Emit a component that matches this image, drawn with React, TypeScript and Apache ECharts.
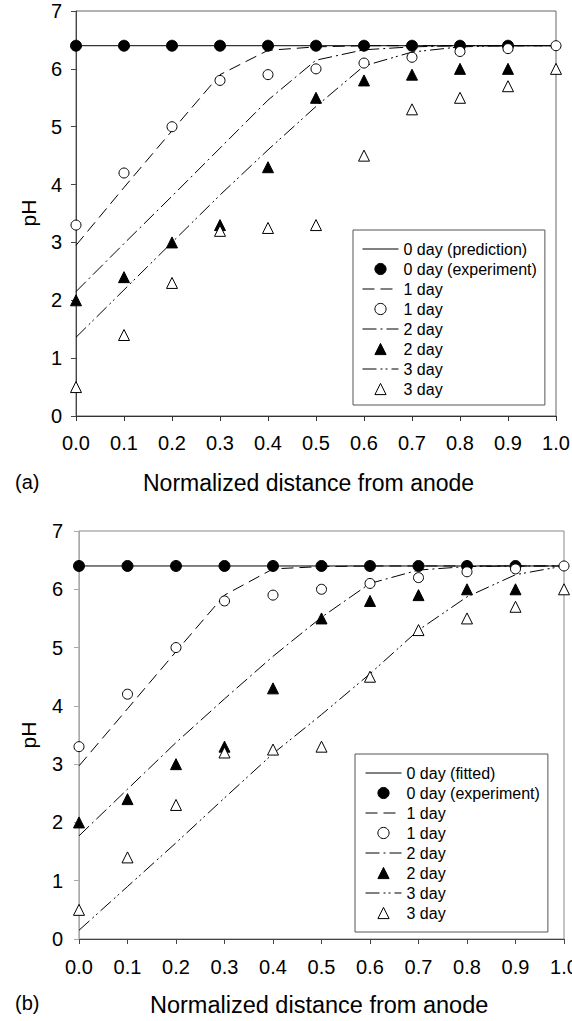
import React, { useEffect, useRef } from "react";
import * as echarts from "echarts";

// Normalized distance from anode
const X = [0, 0.1, 0.2, 0.3, 0.4, 0.5, 0.6, 0.7, 0.8, 0.9, 1.0];

// Experimental pH (same in both panels)
const EXP_DAY0 = [6.4, 6.4, 6.4, 6.4, 6.4, 6.4, 6.4, 6.4, 6.4, 6.4];
const EXP_DAY1 = [3.3, 4.2, 5.0, 5.8, 5.9, 6.0, 6.1, 6.2, 6.3, 6.35, 6.4];
const EXP_DAY2 = [2.0, 2.4, 3.0, 3.3, 4.3, 5.5, 5.8, 5.9, 6.0, 6.0];
const EXP_DAY3 = [0.5, 1.4, 2.3, 3.2, 3.25, 3.3, 4.5, 5.3, 5.5, 5.7, 6.0];

// (a) predictions
const PRED_DAY0 = [6.4, 6.4, 6.4, 6.4, 6.4, 6.4, 6.4, 6.4, 6.4, 6.4, 6.4];
const PRED_DAY1 = [2.95, 3.95, 4.93, 5.9, 6.32, 6.38, 6.4, 6.4, 6.4, 6.4, 6.4];
const PRED_DAY2 = [2.15, 2.98, 3.8, 4.63, 5.46, 6.15, 6.33, 6.38, 6.4, 6.4, 6.4];
const PRED_DAY3 = [1.36, 2.18, 3.0, 3.82, 4.6, 5.35, 6.05, 6.29, 6.38, 6.4, 6.4];

// (b) fitted
const FIT_DAY0 = [6.4, 6.4, 6.4, 6.4, 6.4, 6.4, 6.4, 6.4, 6.4, 6.4, 6.4];
const FIT_DAY1 = [2.97, 3.95, 4.93, 5.9, 6.35, 6.39, 6.4, 6.4, 6.4, 6.4, 6.4];
const FIT_DAY2 = [1.77, 2.57, 3.37, 4.12, 4.85, 5.52, 6.1, 6.33, 6.39, 6.4, 6.4];
const FIT_DAY3 = [0.15, 0.9, 1.65, 2.42, 3.18, 3.85, 4.55, 5.3, 5.87, 6.25, 6.4];

const LEGEND_A = [
  "0 day (prediction)",
  "0 day (experiment)",
  "1 day",
  "1 day",
  "2 day",
  "2 day",
  "3 day",
  "3 day",
];
const LEGEND_B = [
  "0 day (fitted)",
  "0 day (experiment)",
  "1 day",
  "1 day",
  "2 day",
  "2 day",
  "3 day",
  "3 day",
];

const FONT = "'Liberation Sans', Arial, Helvetica, sans-serif";

const DASH_SOLID: any = "solid";
const DASH_1: any = [12, 6];
const DASH_2: any = [14, 4, 2, 4];
const DASH_3: any = [14, 4, 2, 3, 2, 4];

function pairs(vals: number[]) {
  return vals.map((v, i) => [X[i], v]);
}

function lineSeries(id: string, g: number, vals: number[], dash: any) {
  return {
    id,
    name: id,
    type: "line",
    xAxisIndex: g,
    yAxisIndex: g,
    data: pairs(vals),
    symbol: "none",
    clip: false,
    silent: true,
    z: 2,
    lineStyle: { color: "#000", width: 1, type: dash },
    itemStyle: { color: "#000" },
  };
}

function markerSeries(id: string, g: number, vals: number[], symbol: string, fill: string, size: number) {
  return {
    id,
    name: id,
    type: "line",
    xAxisIndex: g,
    yAxisIndex: g,
    data: pairs(vals),
    symbol,
    symbolSize: size,
    showSymbol: true,
    clip: false,
    silent: true,
    z: 3,
    lineStyle: { color: "#000", width: 0, opacity: 0 },
    itemStyle: { color: fill, borderColor: "#000", borderWidth: 1, opacity: 1 },
  };
}

function panelSeries(p: string, g: number, d0: number[], d1: number[], d2: number[], d3: number[]) {
  return [
    lineSeries(p + "L0", g, d0, DASH_SOLID),
    markerSeries(p + "M0", g, EXP_DAY0, "circle", "#000", 11),
    lineSeries(p + "L1", g, d1, DASH_1),
    markerSeries(p + "M1", g, EXP_DAY1, "circle", "#fff", 10),
    lineSeries(p + "L2", g, d2, DASH_2),
    markerSeries(p + "M2", g, EXP_DAY2, "triangle", "#000", 11),
    lineSeries(p + "L3", g, d3, DASH_3),
    markerSeries(p + "M3", g, EXP_DAY3, "triangle", "#fff", 11),
  ];
}

const NAME_ORDER = ["L0", "M0", "L1", "M1", "L2", "M2", "L3", "M3"];

function legendFor(p: string, labels: string[], left: number, top: number, padding: number[], gap: number) {
  const map: Record<string, string> = {};
  NAME_ORDER.forEach((k, i) => (map[p + k] = labels[i]));
  return {
    orient: "vertical",
    left,
    top,
    padding,
    itemWidth: 36,
    itemHeight: 14,
    itemGap: 4,
    itemTextGap: gap,
    borderColor: "#555",
    borderWidth: 1,
    backgroundColor: "#fff",
    selectedMode: false,
    itemStyle: { borderWidth: 1 },
    lineStyle: { width: 1 },
    textStyle: { fontSize: 16, lineHeight: 16, color: "#000", fontFamily: FONT },
    formatter: (name: string) => map[name],
    data: NAME_ORDER.map((k) =>
      k[0] === "L"
        ? { name: p + k, itemStyle: { opacity: 0 }, lineStyle: { opacity: 1 } }
        : { name: p + k, itemStyle: { opacity: 1 }, lineStyle: { opacity: 0 } }
    ),
  };
}

function xAxisFor(g: number, color: string, margin: number) {
  return {
    gridIndex: g,
    type: "value",
    min: 0,
    max: 1,
    interval: 0.1,
    axisLine: { show: true, onZero: false, lineStyle: { color, width: 1 } },
    axisTick: { show: true, inside: false, length: 5, lineStyle: { color } },
    axisLabel: {
      margin,
      fontSize: 20,
      color: "#000",
      fontFamily: FONT,
      formatter: (v: number) => v.toFixed(1),
    },
    splitLine: { show: false },
  };
}

function yAxisFor(g: number, color: string, margin: number) {
  return {
    gridIndex: g,
    type: "value",
    min: 0,
    max: 7,
    interval: 1,
    axisLine: { show: true, onZero: false, lineStyle: { color, width: 1 } },
    axisTick: { show: true, inside: false, length: 5, lineStyle: { color } },
    axisLabel: { margin, fontSize: 20, color: "#000", fontFamily: FONT },
    splitLine: { show: false },
  };
}

export default function App() {
  const ref = useRef<HTMLDivElement>(null);
  useEffect(() => {
    if (!ref.current) return;
    const chart = echarts.init(ref.current, undefined, { renderer: "svg" });
    chart.setOption({
      animation: false,
      backgroundColor: "#fff",
      grid: [
        { left: 76, top: 11, width: 480, height: 405, show: true, borderColor: "#666", borderWidth: 1, backgroundColor: "transparent", containLabel: false, outerBoundsMode: "none" },
        { left: 79, top: 531, width: 485, height: 408, show: true, borderColor: "#888", borderWidth: 1, backgroundColor: "transparent", containLabel: false, outerBoundsMode: "none" },
      ],
      xAxis: [xAxisFor(0, "#333", 17), xAxisFor(1, "#444", 18)],
      yAxis: [yAxisFor(0, "#444", 14), yAxisFor(1, "#aaa", 16)],
      legend: [
        legendFor("a", LEGEND_A, 353, 230, [11, 8, 8, 9], 9),
        legendFor("b", LEGEND_B, 355, 754, [11, 8, 11, 10], 10),
      ],
      series: [
        ...panelSeries("a", 0, PRED_DAY0, PRED_DAY1, PRED_DAY2, PRED_DAY3),
        ...panelSeries("b", 1, FIT_DAY0, FIT_DAY1, FIT_DAY2, FIT_DAY3),
      ],
      graphic: [
        { type: "text", x: 28, y: 213, rotation: Math.PI / 2, style: { text: "pH", fontSize: 21, fontFamily: FONT, fill: "#000", align: "center", verticalAlign: "middle" } },
        { type: "text", x: 28, y: 735, rotation: Math.PI / 2, style: { text: "pH", fontSize: 21, fontFamily: FONT, fill: "#000", align: "center", verticalAlign: "middle" } },
        { type: "text", x: 143, y: 483, style: { text: "Normalized distance from anode", fontSize: 23, fontFamily: FONT, fill: "#000", align: "left", verticalAlign: "middle" } },
        { type: "text", x: 150, y: 1005, style: { text: "Normalized distance from anode", fontSize: 23.5, fontFamily: FONT, fill: "#000", align: "left", verticalAlign: "middle" } },
        { type: "text", x: 15, y: 482, style: { text: "(a)", fontSize: 20, fontFamily: FONT, fill: "#000", align: "left", verticalAlign: "middle" } },
        { type: "text", x: 15, y: 1003, style: { text: "(b)", fontSize: 20, fontFamily: FONT, fill: "#000", align: "left", verticalAlign: "middle" } },
      ],
    });
    return () => chart.dispose();
  }, []);
  return <div ref={ref} style={{ position: "absolute", left: 0, top: 0, width: 572, height: 1021 }} />;
}
